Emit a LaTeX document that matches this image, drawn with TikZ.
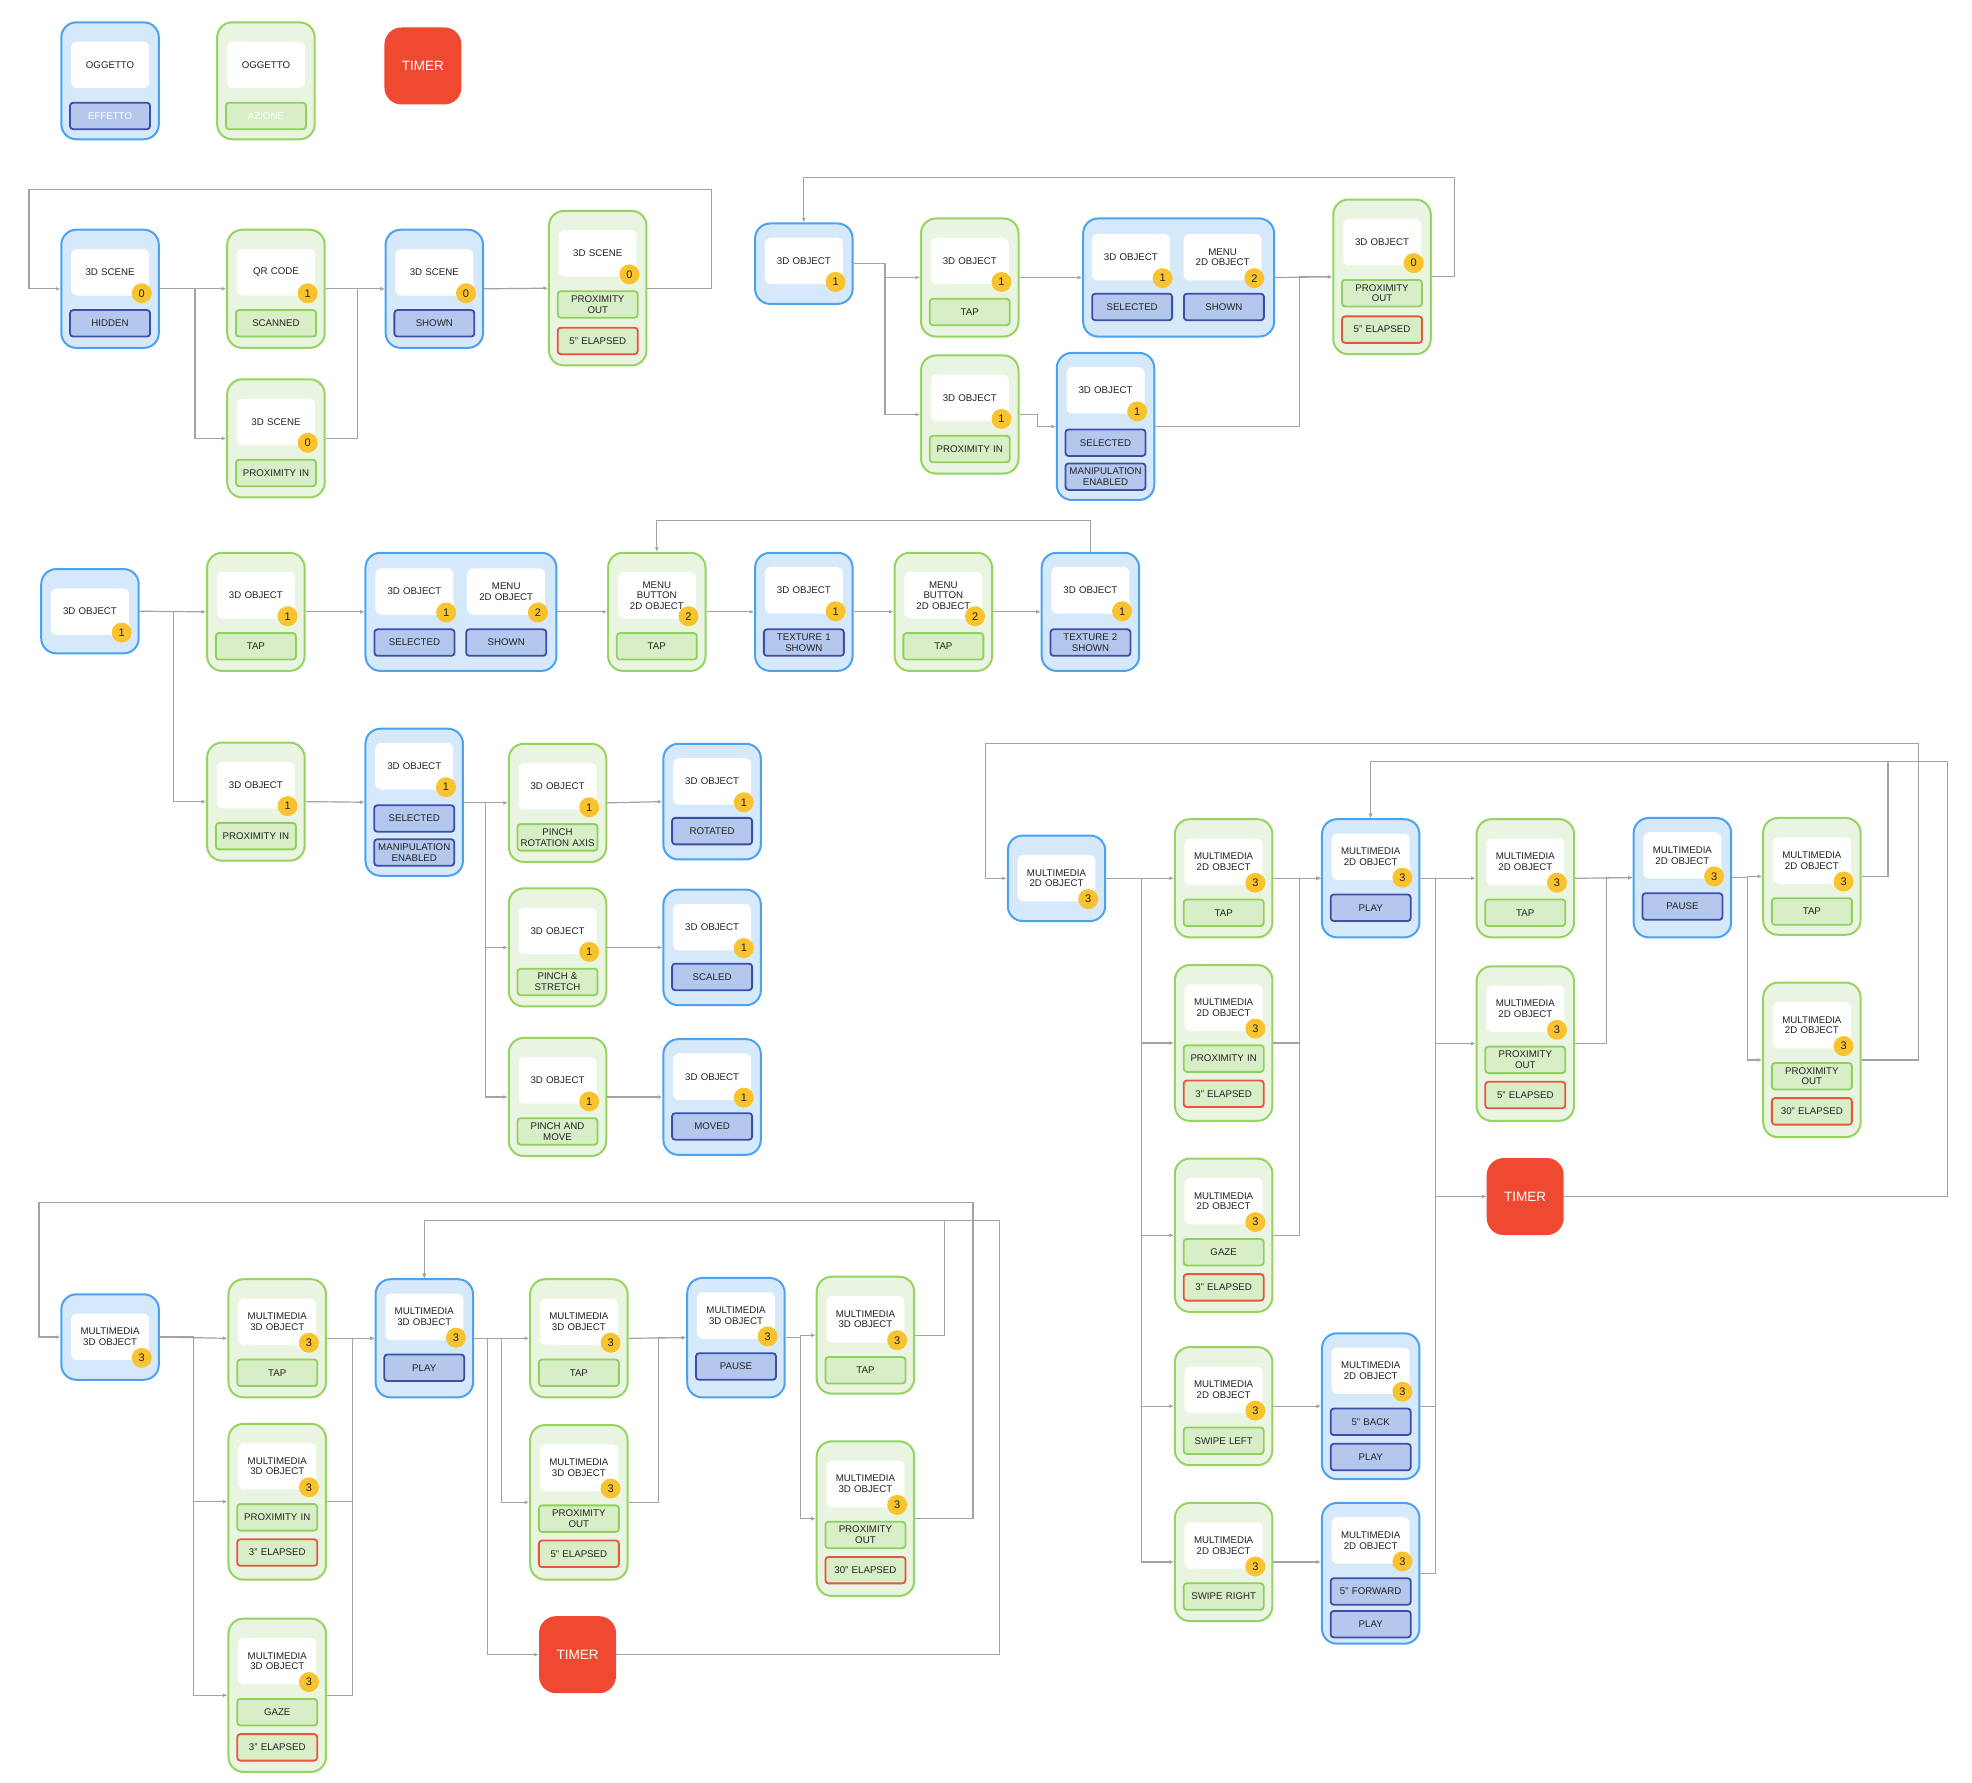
\documentclass[tikz,border=0pt]{standalone}
\usepackage{fontspec}
\setmainfont{Liberation Sans}
\usepackage{xcolor}
\definecolor{fillblue}{HTML}{D5E9FB}
\definecolor{cardblue}{HTML}{4AA2F0}
\definecolor{fillgreen}{HTML}{E9F5E0}
\definecolor{cardgreen}{HTML}{96D35F}
\definecolor{efffill}{HTML}{B4C8EE}
\definecolor{effborder}{HTML}{3E4DA6}
\definecolor{actfill}{HTML}{D8EEC7}
\definecolor{actborder}{HTML}{8FD15C}
\definecolor{timered}{HTML}{E8553F}
\definecolor{timerfill}{HTML}{EF4A31}
\definecolor{badgeyellow}{HTML}{F8C32E}
\definecolor{linegrey}{HTML}{A3A3A3}
\definecolor{textdark}{HTML}{222222}
\usepackage{tikz}
\usetikzlibrary{arrows.meta}
\usetikzlibrary{calc}

\newlength\unitpx
\setlength\unitpx{1.257pt}
\newcommand{\cardfont}{\fontsize{9.7}{10.6}\selectfont}

\tikzset{
  card/.style={line width=2pt, rounded corners=15pt, minimum width=97.5pt, inner sep=0pt},
  bluecard/.style={card, draw=cardblue, fill=fillblue},
  greencard/.style={card, draw=cardgreen, fill=fillgreen},
  widecard/.style={minimum width=191pt},
  objbox/.style={fill=white, rounded corners=6pt, minimum width=78pt, minimum height=46.5pt,
    text width=76pt, align=center, inner sep=1pt, font=\cardfont, text=textdark},
  labbox/.style={line width=1.8pt, rounded corners=3pt, minimum width=80pt, minimum height=26.5pt,
    text width=78pt, align=center, inner sep=0pt, font=\cardfont, text=textdark},
  effbox/.style={labbox, draw=effborder, fill=efffill},
  actbox/.style={labbox, draw=actborder, fill=actfill},
  timebox/.style={labbox, draw=timered, fill=actfill},
  badge/.style={circle, fill=badgeyellow, minimum size=20pt, inner sep=0pt,
    font=\fontsize{11}{11}\selectfont, text=textdark},
  timer/.style={fill=timerfill, rounded corners=17pt, minimum width=77pt, minimum height=77pt,
    inner sep=0pt, text=white, font=\fontsize{13.5}{14}\selectfont},
  wire/.style={draw=linegrey, line width=1.2pt},
  conn/.style={wire, -{Latex[length=4.5pt,width=4pt]}},
}

% name, style, left, top, height, object offset, object text, badge
\newcommand{\mkcard}[8]{%
  \node[#2, minimum height=#5*\unitpx, anchor=north west] (#1) at (#3,#4) {};
  \node[objbox, anchor=north] (#1o) at ([yshift=-#6*\unitpx]#1.north) {#7};
  \node[badge] (#1n) at ([xshift=-7.5pt,yshift=2.5pt]#1o.south east) {#8};
}
% card, suffix, style, offset, text
\newcommand{\mklab}[5]{%
  \node[#3, anchor=north] (#1#2) at ([yshift=-#4*\unitpx]#1.north) {#5};
}

\begin{document}
\begin{tikzpicture}[x=1.257pt, y=-1.257pt]
  \path[fill=white] (0,0) rectangle (1569,1418);

  % legenda
  \node[bluecard, minimum height=93*\unitpx, anchor=north west] (lb) at (48,17) {};
  \node[objbox, anchor=north] (lbo) at ([yshift=-16*\unitpx]lb.north) {OGGETTO};
  \mklab{lb}{a}{effbox,text=white}{64}{EFFETTO}
  \node[greencard, minimum height=93*\unitpx, anchor=north west] (lg) at (172,17) {};
  \node[objbox, anchor=north] (lgo) at ([yshift=-16*\unitpx]lg.north) {OGGETTO};
  \mklab{lg}{a}{actbox,text=white}{64}{AZIONE}
  \node[timer] (lt) at (336.5,52.5) {TIMER};

  % scena
  \mkcard{s0}{bluecard}{48}{182}{94}{16}{3D SCENE}{0}
  \mklab{s0}{a}{effbox}{64}{HIDDEN}
  \mkcard{s1}{greencard}{180}{182}{94}{16}{QR CODE}{1}
  \mklab{s1}{a}{actbox}{64}{SCANNED}
  \mkcard{s2}{greencard}{180}{301}{94}{16}{3D SCENE}{0}
  \mklab{s2}{a}{actbox}{64}{PROXIMITY IN}
  \mkcard{s3}{bluecard}{306}{182}{94}{16}{3D SCENE}{0}
  \mklab{s3}{a}{effbox}{64}{SHOWN}
  \mkcard{s4}{greencard}{436}{167}{123}{16}{3D SCENE}{0}
  \mklab{s4}{a}{actbox}{64}{PROXIMITY\\OUT}
  \mklab{s4}{b}{timebox}{93}{5" ELAPSED}

  \draw[conn] (s0.east) -- (s1.west);
  \draw[conn] (s0.east) -- ++(28,0) |- (s2.west);
  \draw[conn] (s1.east) -- (s3.west);
  \draw[conn] (s2.east) -- ++(25,0) |- (s3.west);
  \draw[conn] (s3.east) -- (s4.west);
  \draw[conn] (s4.east) -- ++(51,0) |- ($(s0.west)+(-25,-79)$) |- (s0.west);

  % oggetto 3D, menu
  \mkcard{b0}{bluecard}{600}{177}{64}{12}{3D OBJECT}{1}
  \mkcard{b1}{greencard}{732}{173}{94}{16}{3D OBJECT}{1}
  \mklab{b1}{a}{actbox}{64}{TAP}
  \mkcard{b2}{greencard}{732}{282}{94}{16}{3D OBJECT}{1}
  \mklab{b2}{a}{actbox}{64}{PROXIMITY IN}
  \node[bluecard, widecard, minimum height=94*\unitpx, anchor=north west] (b3) at (861,173) {};
  \node[objbox, anchor=north] (b3o) at ([xshift=-38*\unitpx,yshift=-13*\unitpx]b3.north) {3D OBJECT};
  \node[badge] (b3n) at ([xshift=-7.5pt,yshift=2.5pt]b3o.south east) {1};
  \node[objbox, anchor=north] (b3p) at ([xshift=35*\unitpx,yshift=-13*\unitpx]b3.north) {MENU\\2D OBJECT};
  \node[badge] (b3m) at ([xshift=-7.5pt,yshift=2.5pt]b3p.south east) {2};
  \node[effbox, anchor=north] (b3a) at ([xshift=-37*\unitpx,yshift=-60*\unitpx]b3.north) {SELECTED};
  \node[effbox, anchor=north] (b3b) at ([xshift=36*\unitpx,yshift=-60*\unitpx]b3.north) {SHOWN};
  \mkcard{b4}{bluecard}{840}{280}{117}{12}{3D OBJECT}{1}
  \mklab{b4}{a}{effbox}{61}{SELECTED}
  \mklab{b4}{b}{effbox}{88}{MANIPULATION\\ENABLED}
  \mkcard{b5}{greencard}{1060}{158}{123}{16}{3D OBJECT}{0}
  \mklab{b5}{a}{actbox}{64}{PROXIMITY\\OUT}
  \mklab{b5}{b}{timebox}{93}{5" ELAPSED}

  \draw[conn] (b0.east) -- ++(25,0) |- (b1.west);
  \draw[conn] (b0.east) -- ++(25,0) |- (b2.west);
  \draw[conn] (b1.east) -- (b3.west);
  \draw[conn] (b2.east) -- ++(14,0) |- (b4.west);
  \draw[conn] (b3.east) -- (b5.west);
  \draw[conn] (b4.east) -- ++(115,0) |- (b5.west);
  \draw[conn] (b5.east) -- ++(18,0) |- ($(b0.north)+(0,-36)$) -- (b0.north);

  % oggetto 3D, texture e manipolazione
  \mkcard{c0}{bluecard}{32}{452}{67}{16}{3D OBJECT}{1}
  \mkcard{c1}{greencard}{164}{439}{94}{16}{3D OBJECT}{1}
  \mklab{c1}{a}{actbox}{64}{TAP}
  \node[bluecard, widecard, minimum height=94*\unitpx, anchor=north west] (c2) at (290,439) {};
  \node[objbox, anchor=north] (c2o) at ([xshift=-37*\unitpx,yshift=-13*\unitpx]c2.north) {3D OBJECT};
  \node[badge] (c2n) at ([xshift=-7.5pt,yshift=2.5pt]c2o.south east) {1};
  \node[objbox, anchor=north] (c2p) at ([xshift=36*\unitpx,yshift=-13*\unitpx]c2.north) {MENU\\2D OBJECT};
  \node[badge] (c2m) at ([xshift=-7.5pt,yshift=2.5pt]c2p.south east) {2};
  \node[effbox, anchor=north] (c2a) at ([xshift=-37*\unitpx,yshift=-61*\unitpx]c2.north) {SELECTED};
  \node[effbox, anchor=north] (c2b) at ([xshift=36*\unitpx,yshift=-61*\unitpx]c2.north) {SHOWN};
  \mkcard{c3}{greencard}{483}{439}{94}{16}{MENU\\BUTTON\\2D OBJECT}{2}
  \mklab{c3}{a}{actbox}{64}{TAP}
  \mkcard{c4}{bluecard}{600}{439}{94}{12}{3D OBJECT}{1}
  \mklab{c4}{a}{effbox}{61}{TEXTURE 1\\SHOWN}
  \mkcard{c5}{greencard}{711}{439}{94}{16}{MENU\\BUTTON\\2D OBJECT}{2}
  \mklab{c5}{a}{actbox}{64}{TAP}
  \mkcard{c6}{bluecard}{828}{439}{94}{12}{3D OBJECT}{1}
  \mklab{c6}{a}{effbox}{61}{TEXTURE 2\\SHOWN}
  \mkcard{c7}{greencard}{164}{590}{94}{16}{3D OBJECT}{1}
  \mklab{c7}{a}{actbox}{64}{PROXIMITY IN}
  \mkcard{c8}{bluecard}{290}{579}{117}{12}{3D OBJECT}{1}
  \mklab{c8}{a}{effbox}{61}{SELECTED}
  \mklab{c8}{b}{effbox}{88}{MANIPULATION\\ENABLED}
  \mkcard{c9}{greencard}{404}{591}{94}{16}{3D OBJECT}{1}
  \mklab{c9}{a}{actbox}{64}{PINCH\\ROTATION AXIS}
  \mkcard{c10}{greencard}{404}{706}{94}{16}{3D OBJECT}{1}
  \mklab{c10}{a}{actbox}{64}{PINCH \&\\STRETCH}
  \mkcard{c11}{greencard}{404}{825}{94}{16}{3D OBJECT}{1}
  \mklab{c11}{a}{actbox}{64}{PINCH AND\\MOVE}
  \mkcard{c12}{bluecard}{527}{591}{92}{12}{3D OBJECT}{1}
  \mklab{c12}{a}{effbox}{59}{ROTATED}
  \mkcard{c13}{bluecard}{527}{707}{92}{12}{3D OBJECT}{1}
  \mklab{c13}{a}{effbox}{59}{SCALED}
  \mkcard{c14}{bluecard}{527}{826}{92}{12}{3D OBJECT}{1}
  \mklab{c14}{a}{effbox}{59}{MOVED}

  \draw[conn] (c0.east) -- (c1.west);
  \draw[conn] (c0.east) -- ++(27,0) |- (c7.west);
  \draw[conn] (c1.east) -- (c2.west);
  \draw[conn] (c2.east) -- (c3.west);
  \draw[conn] (c3.east) -- (c4.west);
  \draw[conn] (c4.east) -- (c5.west);
  \draw[conn] (c5.east) -- (c6.west);
  \draw[conn] (c6.north) -- ++(0,-25) -| (c3.north);
  \draw[conn] (c7.east) -- (c8.west);
  \draw[conn] (c8.east) -- ++(17,0) |- (c9.west);
  \draw[conn] (c8.east) -- ++(17,0) |- (c10.west);
  \draw[conn] (c8.east) -- ++(17,0) |- (c11.west);
  \draw[conn] (c9.east) -- (c12.west);
  \draw[conn] (c10.east) -- (c13.west);
  \draw[conn] (c11.east) -- (c14.west);

  % oggetto multimediale 2D
  \mkcard{d0}{bluecard}{801}{664}{68}{16}{MULTIMEDIA\\2D OBJECT}{3}
  \mkcard{d1}{greencard}{934}{651}{94}{16}{MULTIMEDIA\\2D OBJECT}{3}
  \mklab{d1}{a}{actbox}{64}{TAP}
  \mkcard{d2}{greencard}{934}{767}{124}{16}{MULTIMEDIA\\2D OBJECT}{3}
  \mklab{d2}{a}{actbox}{64}{PROXIMITY IN}
  \mklab{d2}{b}{timebox}{92}{3" ELAPSED}
  \mkcard{d3}{greencard}{934}{921}{122}{16}{MULTIMEDIA\\2D OBJECT}{3}
  \mklab{d3}{a}{actbox}{64}{GAZE}
  \mklab{d3}{b}{timebox}{92}{3" ELAPSED}
  \mkcard{d4}{greencard}{934}{1071}{94}{16}{MULTIMEDIA\\2D OBJECT}{3}
  \mklab{d4}{a}{actbox}{64}{SWIPE LEFT}
  \mkcard{d5}{greencard}{934}{1195}{94}{16}{MULTIMEDIA\\2D OBJECT}{3}
  \mklab{d5}{a}{actbox}{64}{SWIPE RIGHT}
  \mkcard{d6}{bluecard}{1051}{651}{94}{12}{MULTIMEDIA\\2D OBJECT}{3}
  \mklab{d6}{a}{effbox}{60}{PLAY}
  \mkcard{d7}{bluecard}{1051}{1060}{116}{12}{MULTIMEDIA\\2D OBJECT}{3}
  \mklab{d7}{a}{effbox}{60}{5" BACK}
  \mklab{d7}{b}{effbox}{88}{PLAY}
  \mkcard{d8}{bluecard}{1051}{1195}{112}{12}{MULTIMEDIA\\2D OBJECT}{3}
  \mklab{d8}{a}{effbox}{60}{5" FORWARD}
  \mklab{d8}{b}{effbox}{86}{PLAY}
  \mkcard{d9}{greencard}{1174}{651}{94}{16}{MULTIMEDIA\\2D OBJECT}{3}
  \mklab{d9}{a}{actbox}{64}{TAP}
  \mkcard{d10}{greencard}{1174}{768}{123}{16}{MULTIMEDIA\\2D OBJECT}{3}
  \mklab{d10}{a}{actbox}{64}{PROXIMITY\\OUT}
  \mklab{d10}{b}{timebox}{92}{5" ELAPSED}
  \mkcard{d11}{bluecard}{1299}{650}{95}{12}{MULTIMEDIA\\2D OBJECT}{3}
  \mklab{d11}{a}{effbox}{60}{PAUSE}
  \mkcard{d12}{greencard}{1402}{650}{93}{16}{MULTIMEDIA\\2D OBJECT}{3}
  \mklab{d12}{a}{actbox}{64}{TAP}
  \mkcard{d13}{greencard}{1402}{781}{123}{16}{MULTIMEDIA\\2D OBJECT}{3}
  \mklab{d13}{a}{actbox}{64}{PROXIMITY\\OUT}
  \mklab{d13}{b}{timebox}{92}{30" ELAPSED}
  \node[timer] (dt) at (1213.5,952) {TIMER};

  \draw[conn] (d0.east) -- (d1.west);
  \draw[conn] (d0.east) -- ++(28,0) |- (d2.west);
  \draw[conn] (d0.east) -- ++(28,0) |- (d3.west);
  \draw[conn] (d0.east) -- ++(28,0) |- (d4.west);
  \draw[conn] (d0.east) -- ++(28,0) |- (d5.west);
  \draw[conn] (d1.east) -- (d6.west);
  \draw[conn] (d2.east) -- ++(21,0) |- (d6.west);
  \draw[conn] (d3.east) -- ++(21,0) |- (d6.west);
  \draw[conn] (d4.east) -- (d7.west);
  \draw[conn] (d5.east) -- (d5.east -| d8.west);
  \draw[conn] (d6.east) -- (d9.west);
  \draw[conn] (d6.east) -- ++(12,0) |- (d10.west);
  \draw[conn] (d6.east) -- ++(12,0) |- (dt.west);
  \draw[wire] (d7.east) -| ($(d6.east)+(12,0)$);
  \draw[wire] (d8.east) -| ($(d6.east)+(12,0)$);
  \draw[conn] (d9.east) -- (d11.west);
  \draw[conn] (d10.east) -- ++(25,0) |- (d11.west);
  \draw[conn] (d11.east) -- ++(12,0) |- (d12.west);
  \draw[conn] (d11.east) -- ++(12,0) |- (d13.west);
  \draw[conn] (d13.east) -- ++(45,0) |- ($(d0.west)+(-17,-107)$) |- (d0.west);
  \draw[conn] (d12.east) -- ++(21,0) |- ($(d6.north)+(0,-45)$) -- (d6.north);
  \draw[conn] (dt.east) -- ++(305,0) |- ($(d6.north)+(0,-45)$) -- (d6.north);

  % oggetto multimediale 3D
  \mkcard{e0}{bluecard}{48}{1029}{68}{16}{MULTIMEDIA\\3D OBJECT}{3}
  \mkcard{e1}{greencard}{181}{1017}{94}{16}{MULTIMEDIA\\3D OBJECT}{3}
  \mklab{e1}{a}{actbox}{64}{TAP}
  \mkcard{e2}{greencard}{181}{1132}{124}{16}{MULTIMEDIA\\3D OBJECT}{3}
  \mklab{e2}{a}{actbox}{64}{PROXIMITY IN}
  \mklab{e2}{b}{timebox}{92}{3" ELAPSED}
  \mkcard{e3}{greencard}{181}{1287}{122}{16}{MULTIMEDIA\\3D OBJECT}{3}
  \mklab{e3}{a}{actbox}{64}{GAZE}
  \mklab{e3}{b}{timebox}{92}{3" ELAPSED}
  \mkcard{e4}{bluecard}{298}{1017}{94}{12}{MULTIMEDIA\\3D OBJECT}{3}
  \mklab{e4}{a}{effbox}{60}{PLAY}
  \mkcard{e5}{greencard}{421}{1017}{94}{16}{MULTIMEDIA\\3D OBJECT}{3}
  \mklab{e5}{a}{actbox}{64}{TAP}
  \mkcard{e6}{greencard}{421}{1133}{123}{16}{MULTIMEDIA\\3D OBJECT}{3}
  \mklab{e6}{a}{actbox}{64}{PROXIMITY\\OUT}
  \mklab{e6}{b}{timebox}{92}{5" ELAPSED}
  \mkcard{e7}{bluecard}{546}{1016}{95}{12}{MULTIMEDIA\\3D OBJECT}{3}
  \mklab{e7}{a}{effbox}{60}{PAUSE}
  \mkcard{e8}{greencard}{649}{1015}{93}{16}{MULTIMEDIA\\3D OBJECT}{3}
  \mklab{e8}{a}{actbox}{64}{TAP}
  \mkcard{e9}{greencard}{649}{1146}{123}{16}{MULTIMEDIA\\3D OBJECT}{3}
  \mklab{e9}{a}{actbox}{64}{PROXIMITY\\OUT}
  \mklab{e9}{b}{timebox}{92}{30" ELAPSED}
  \node[timer] (et) at (459.5,1316.5) {TIMER};

  \draw[conn] (e0.east) -- (e1.west);
  \draw[conn] (e0.east) -- ++(27,0) |- (e2.west);
  \draw[conn] (e0.east) -- ++(27,0) |- (e3.west);
  \draw[conn] (e1.east) -- (e4.west);
  \draw[conn] (e2.east) -- ++(20,0) |- (e4.west);
  \draw[conn] (e3.east) -- ++(20,0) |- (e4.west);
  \draw[conn] (e4.east) -- (e5.west);
  \draw[conn] (e4.east) -- ++(22,0) |- (e6.west);
  \draw[conn] (e4.east) -- ++(11,0) |- (et.west);
  \draw[conn] (e5.east) -- (e7.west);
  \draw[conn] (e6.east) -- ++(24,0) |- (e7.west);
  \draw[conn] (e7.east) -- ++(12,0) |- (e8.west);
  \draw[conn] (e7.east) -- ++(12,0) |- (e9.west);
  \draw[conn] (e9.east) -- ++(46,0) |- ($(e0.west)+(-17,-107)$) |- (e0.west);
  \draw[conn] (e8.east) -- ++(23,0) |- ($(e4.north)+(0,-46)$) -- (e4.north);
  \draw[conn] (et.east) -- ++(305,0) |- ($(e4.north)+(0,-46)$) -- (e4.north);
\end{tikzpicture}
\end{document}
